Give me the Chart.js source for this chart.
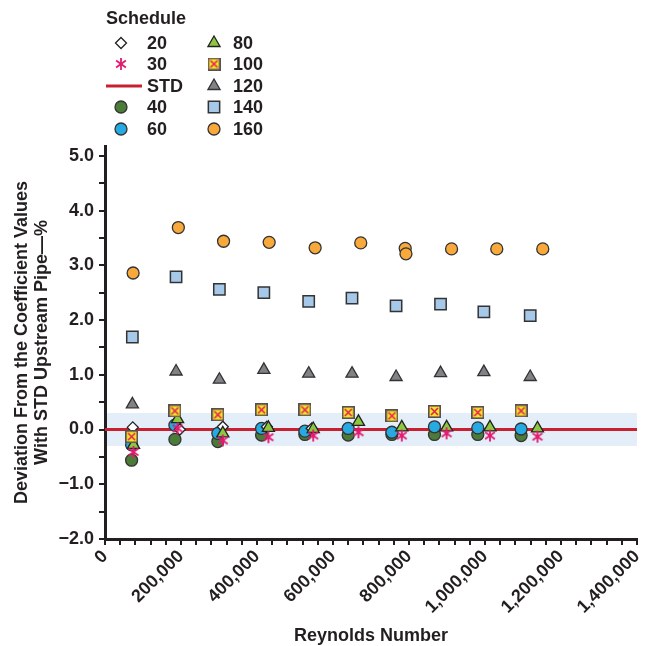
<!DOCTYPE html>
<html>
<head>
<meta charset="utf-8">
<script src="https://cdn.jsdelivr.net/npm/chart.js@4.4.1/dist/chart.umd.min.js"></script>
<style>
  html, body { margin: 0; padding: 0; background: #fff; }
  #wrap { position: relative; width: 657px; height: 646px; font-family: "Liberation Sans", Arial, sans-serif; color: #231f20; }
  #chart { position: absolute; left: 0; top: 0; }
  .lg { position: absolute; font-weight: bold; font-size: 18px; line-height: 20px; white-space: nowrap; }
  .mk { position: absolute; }
</style>
</head>
<body>
<div id="wrap">
  <canvas id="chart" width="657" height="646"></canvas>
  <div id="legend"></div>
</div>
<script>
// Reynolds numbers for each group of schedules
const reynolds20 = [73000, 197000, 310000, 426000, 544000];
const reynoldsA = [70000, 184000, 297000, 412000, 526000, 640000, 755000, 867000, 981000, 1095000]; // 40, 60, 100
const reynoldsB = [75000, 191000, 310000, 430000, 548000, 667000, 781000, 899000, 1013000, 1138000]; // 30, 80
const reynoldsC = [72000, 187000, 301000, 418000, 536000, 650000, 766000, 883000, 997000, 1119000]; // 120, 140
const reynolds160 = [74000, 193000, 312000, 432000, 553000, 673000, 790000, 792000, 912000, 1031000, 1152000];

// deviation from STD coefficient, %
const dev20 = [0.04, 0.0, 0.05, 0.05, 0.02];
const dev30 = [-0.41, 0.02, -0.2, -0.14, -0.11, -0.05, -0.11, -0.07, -0.11, -0.13];
const dev40 = [-0.56, -0.18, -0.22, -0.1, -0.09, -0.1, -0.09, -0.09, -0.09, -0.11];
const dev60 = [-0.28, 0.08, -0.07, 0.02, -0.03, 0.02, -0.05, 0.05, 0.03, 0.01];
const dev80 = [-0.28, 0.19, -0.07, 0.03, 0.01, 0.14, 0.04, 0.04, 0.04, 0.02];
const dev100 = [-0.13, 0.34, 0.27, 0.36, 0.36, 0.31, 0.25, 0.33, 0.31, 0.34];
const dev120 = [0.46, 1.06, 0.91, 1.09, 1.02, 1.02, 0.96, 1.03, 1.05, 0.96];
const dev140 = [1.69, 2.79, 2.56, 2.5, 2.34, 2.4, 2.26, 2.29, 2.15, 2.08];
const dev160 = [2.86, 3.69, 3.44, 3.42, 3.32, 3.41, 3.31, 3.21, 3.3, 3.3, 3.3];

// STD reference line and tolerance band
const stdX = [0, 1400000];
const stdY = [0, 0];
const bandLimits = [-0.3, 0.3];

// labelled ticks
const xTickValues = [0, 200000, 400000, 600000, 800000, 1000000, 1200000, 1400000];
const yTickValues = [-2, -1, 0, 1, 2, 3, 4, 5];

const INK = "#231f20";
const FONT = "'Liberation Sans', Arial, sans-serif";

function pts(xs, ys) {
  return xs.map((x, i) => ({ x: x, y: ys[i] }));
}

// custom marker images: asterisk and crossed square
function makeAsterisk(size, color) {
  const c = document.createElement("canvas");
  c.width = c.height = size;
  const g = c.getContext("2d");
  g.strokeStyle = color;
  g.lineWidth = 1.8;
  const m = size / 2, r = size / 2 - 1;
  g.beginPath();
  [90, 35, 145].forEach((deg) => {
    const a = deg * Math.PI / 180;
    g.moveTo(m + Math.cos(a) * r, m - Math.sin(a) * r);
    g.lineTo(m - Math.cos(a) * r, m + Math.sin(a) * r);
  });
  g.stroke();
  return c;
}

function makeCrossSquare(size) {
  const c = document.createElement("canvas");
  c.width = c.height = size;
  const g = c.getContext("2d");
  g.fillStyle = "#f3e51f";
  g.fillRect(1, 1, size - 2, size - 2);
  g.strokeStyle = "#e3205f";
  g.lineWidth = 1.6;
  g.beginPath();
  g.moveTo(3, 3); g.lineTo(size - 3, size - 3);
  g.moveTo(size - 3, 3); g.lineTo(3, size - 3);
  g.stroke();
  g.strokeStyle = "#5b4d55";
  g.lineWidth = 1.6;
  g.strokeRect(0.8, 0.8, size - 1.6, size - 1.6);
  return c;
}

const asterisk = makeAsterisk(14, "#e4196f");
const crossSquare = makeCrossSquare(13);

const datasets = [
  { label: "160", data: pts(reynolds160, dev160), pointStyle: "circle", pointRadius: 6, backgroundColor: "#f9a93c", borderColor: "#333", borderWidth: 1.3, order: 1 },
  { label: "140", data: pts(reynoldsC, dev140), pointStyle: "rect", pointRadius: 8, backgroundColor: "#a6c8e9", borderColor: "#333", borderWidth: 1.5, order: 2 },
  { label: "120", data: pts(reynoldsC, dev120), pointStyle: "triangle", pointRadius: 7, backgroundColor: "#808285", borderColor: "#333", borderWidth: 1.3, order: 3 },
  { label: "100", data: pts(reynoldsA, dev100), pointStyle: crossSquare, backgroundColor: "#f3e51f", borderColor: "#5b4d55", order: 4 },
  { label: "30", data: pts(reynoldsB, dev30), pointStyle: asterisk, backgroundColor: "#e4196f", borderColor: "#e4196f", order: 5 },
  { label: "80", data: pts(reynoldsB, dev80), pointStyle: "triangle", pointRadius: 7, backgroundColor: "#8dc63f", borderColor: "#222", borderWidth: 1.3, order: 6 },
  { label: "20", data: pts(reynolds20, dev20), pointStyle: "rectRot", pointRadius: 5.5, backgroundColor: "#ffffff", borderColor: "#222", borderWidth: 1.3, order: 7 },
  { label: "60", data: pts(reynoldsA, dev60), pointStyle: "circle", pointRadius: 6, backgroundColor: "#27a9e1", borderColor: "#333", borderWidth: 1.3, order: 8 },
  { label: "40", data: pts(reynoldsA, dev40), pointStyle: "circle", pointRadius: 6, backgroundColor: "#4b7b38", borderColor: "#333", borderWidth: 1.3, order: 9 },
  { label: "STD", type: "line", data: pts(stdX, stdY), borderColor: "#c8202f", borderWidth: 3, pointRadius: 0, fill: false, order: 20 },
];
datasets.forEach((d) => { d.pointHoverRadius = d.pointRadius; d.pointBorderWidth = d.borderWidth; });

// light blue tolerance band behind everything
const bandPlugin = {
  id: "band",
  beforeDraw(chart) {
    const { ctx, scales: { x, y } } = chart;
    const x0 = x.getPixelForValue(stdX[0]) + 2;
    const x1 = x.getPixelForValue(stdX[1]);
    const y0 = y.getPixelForValue(bandLimits[1]);
    const y1 = y.getPixelForValue(bandLimits[0]);
    ctx.save();
    ctx.fillStyle = "#e4eef9";
    ctx.fillRect(x0, y0, x1 - x0, y1 - y0);
    ctx.restore();
  },
};

const tickFont = { family: FONT, weight: "bold", size: 18 };
const titleFont = { family: FONT, weight: "bold", size: 18, lineHeight: 1.12 };

// tick values can carry float noise; compare on a rounded value
const near = (v) => Math.round(v * 1000) / 1000;

const chart = new Chart(document.getElementById("chart"), {
  type: "scatter",
  data: { datasets: datasets },
  plugins: [bandPlugin],
  options: {
    responsive: false,
    animation: false,
    layout: { padding: { top: 146, right: 20, bottom: 0, left: 0 } },
    plugins: { legend: { display: false }, tooltip: { enabled: false } },
    scales: {
      x: {
        type: "linear",
        min: 0,
        max: 1400000,
        afterFit: (s) => { s.height = 107; },
        ticks: {
          stepSize: 40000,
          autoSkip: false,
          minRotation: 45,
          maxRotation: 45,
          padding: 1,
          color: INK,
          font: tickFont,
          callback: (v) => (xTickValues.includes(Math.round(v)) ? Math.round(v).toLocaleString("en-US") : ""),
        },
        grid: { drawOnChartArea: false, tickLength: 6, color: INK, lineWidth: 2 },
        border: { color: INK, width: 3 },
        title: { display: true, text: "Reynolds Number", color: INK, font: titleFont, padding: { top: 0, bottom: 0 } },
      },
      y: {
        type: "linear",
        min: -2,
        max: 5.18,
        afterFit: (s) => { s.width = 105; },
        ticks: {
          stepSize: 0.5,
          includeBounds: false,
          autoSkip: false,
          padding: 5,
          color: INK,
          font: tickFont,
          callback: (v) => (yTickValues.includes(near(v)) ? near(v).toFixed(1).replace("-", "\u2212") : ""),
        },
        grid: { drawOnChartArea: false, tickLength: 6, color: INK, lineWidth: 2 },
        border: { color: INK, width: 3 },
        title: {
          display: true,
          text: ["Deviation From the Coefficient Values", "With STD Upstream Pipe\u2014%"],
          color: INK,
          font: titleFont,
          padding: { top: 12, bottom: 0 },
        },
      },
    },
  },
});

// HTML legend: "Schedule" title with two columns
const legendCols = [["20", "30", "STD", "40", "60"], ["80", "100", "120", "140", "160"]];
const markerX = [121, 214];
const textX = [147, 233];
const rowY0 = 43, rowStep = 21.4;
const legendEl = document.getElementById("legend");

function addText(txt, left, cy) {
  const el = document.createElement("div");
  el.className = "lg";
  el.textContent = txt;
  el.style.left = left + "px";
  el.style.top = (cy - 10) + "px";
  legendEl.appendChild(el);
}

addText("Schedule", 106, 18);

legendCols.forEach((col, ci) => {
  col.forEach((label, ri) => {
    const cy = rowY0 + ri * rowStep;
    const ds = datasets.find((d) => d.label === label);
    const cv = document.createElement("canvas");
    cv.className = "mk";
    const g2 = cv.getContext("2d");
    if (label === "STD") {
      cv.width = 40; cv.height = 20;
      cv.style.left = "104px";
      cv.style.top = (cy - 10) + "px";
      g2.strokeStyle = ds.borderColor;
      g2.lineWidth = 3;
      g2.beginPath(); g2.moveTo(2, 10); g2.lineTo(38, 10); g2.stroke();
    } else {
      cv.width = 20; cv.height = 20;
      cv.style.left = (markerX[ci] - 10) + "px";
      cv.style.top = (cy - 10) + "px";
      g2.fillStyle = ds.backgroundColor;
      g2.strokeStyle = ds.borderColor;
      g2.lineWidth = ds.borderWidth || 1;
      Chart.helpers.drawPoint(g2, { pointStyle: ds.pointStyle, radius: ds.pointRadius || 6, borderWidth: ds.borderWidth || 0, rotation: 0 }, 10, 10);
    }
    legendEl.appendChild(cv);
    addText(label, textX[ci], cy);
  });
});
</script>
</body>
</html>
